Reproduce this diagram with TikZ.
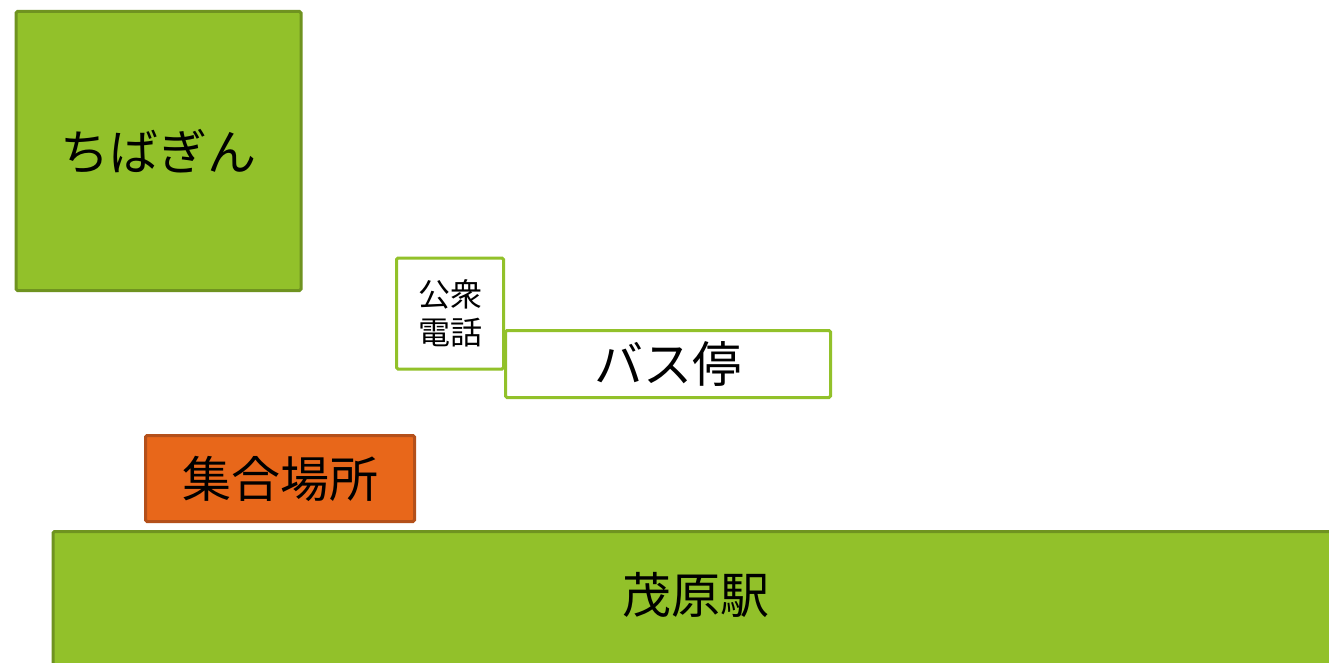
\documentclass[tikz,border=0pt]{standalone}
\usepackage{fontspec}
\newfontfamily\jp{Noto Sans CJK JP}
\definecolor{gfill}{HTML}{92C12A}
\definecolor{gedge}{HTML}{6F9320}
\definecolor{ofill}{HTML}{E8671A}
\definecolor{oedge}{HTML}{B4501A}
\tikzset{
  box/.style={rectangle, inner sep=0pt, line width=3pt, rounded corners=1.5pt, font=\jp\fontsize{49pt}{58pt}\selectfont, text=black},
  greenbox/.style={box, fill=gfill, draw=gedge},
  orangebox/.style={box, fill=ofill, draw=oedge},
  whitebox/.style={box, fill=white, draw=gfill},
  smalltext/.style={font=\jp\fontsize{32pt}{38pt}\selectfont, align=center},
}
\begin{document}
\begin{tikzpicture}[x=1pt,y=-1pt]
\useasboundingbox (0,0) rectangle (1329,663);
\fill[white] (0,0) rectangle (1329,663);
\node[greenbox, minimum width=285pt, minimum height=279pt] (chibagin) at (158.5,151) {ちばぎん};
\node[whitebox, minimum width=107pt, minimum height=111pt, smalltext] (phone) at (450,313.5) {公衆\\電話};
\node[whitebox, minimum width=325pt, minimum height=67pt] (bus) at (668,364) {バス停};
\node[orangebox, minimum width=269pt, minimum height=86pt] (meet) at (280,478.5) {集合場所};
\node[greenbox, minimum width=1320pt, minimum height=160pt, anchor=north west] (station) at (51.5,530) {};
\node[box, draw=none] (stationlabel) at (696,595) {茂原駅};
\end{tikzpicture}
\end{document}
